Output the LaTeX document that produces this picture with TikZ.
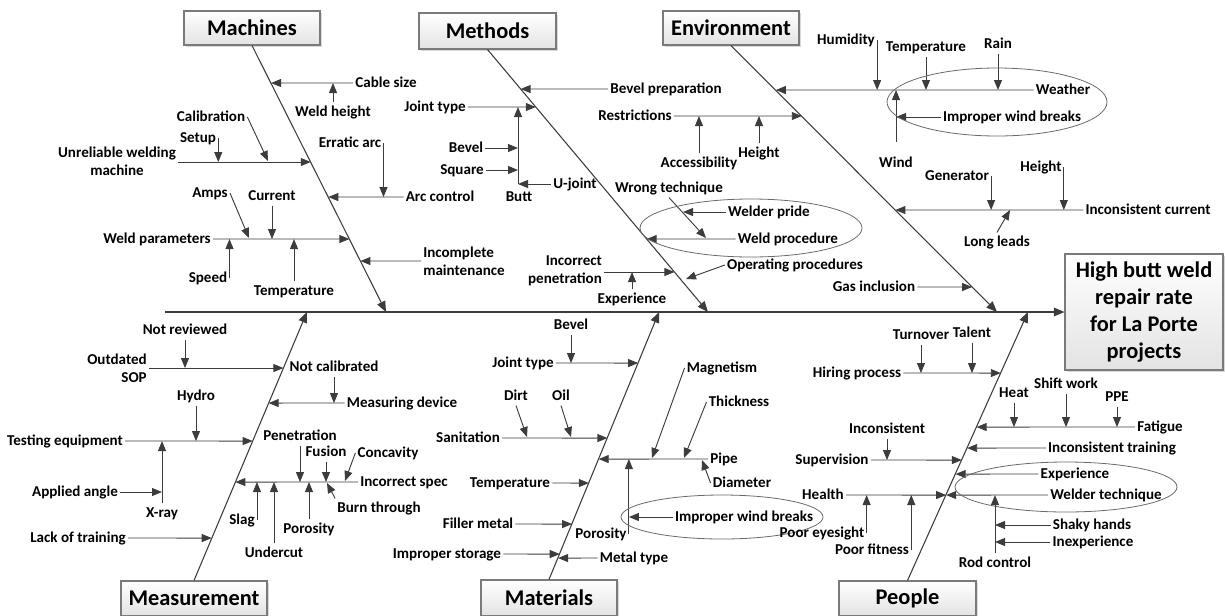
\documentclass[tikz,border=0pt]{standalone}
\usepackage{fontspec}
\setmainfont{Carlito}
\usetikzlibrary{arrows.meta,shadows}
\definecolor{lncol}{HTML}{3C3C3C}
\definecolor{boxline}{HTML}{7A7A7A}
\definecolor{ellcol}{HTML}{6A6A6A}
\newcommand\bpt[6]{\coordinate (#1) at (intersection of #2,#3--#4,#5 and 0,#6--1,#6);}
\newcommand\mchpt[2]{\bpt{#1}{252}{45}{386}{312}{#2}}
\newcommand\mthpt[2]{\bpt{#1}{487}{49}{708}{312}{#2}}
\newcommand\envpt[2]{\bpt{#1}{731}{45}{997}{312}{#2}}
\newcommand\meapt[2]{\bpt{#1}{194}{580}{307}{312}{#2}}
\newcommand\matpt[2]{\bpt{#1}{549}{580}{659}{312}{#2}}
\newcommand\pplpt[2]{\bpt{#1}{908}{580}{1028}{312}{#2}}
\tikzset{
  lab/.style={font=\bfseries\fontsize{11.3}{13.5}\selectfont, inner sep=1.5pt, text height=8.5pt, text depth=2.5pt},
  labm/.style={font=\bfseries\fontsize{11.3}{13.5}\selectfont, inner sep=1.5pt},
  arr/.style={draw=lncol, line width=0.7pt, -{Triangle[length=7.5pt,width=6pt]}},
  bone/.style={draw=lncol, line width=0.8pt, -{Triangle[length=8pt,width=6.5pt]}},
  ell/.style={draw=ellcol, line width=0.6pt},
  cat/.style={draw=boxline, line width=0.8pt, top color=white, bottom color=gray!22,
    drop shadow={opacity=0.3, shadow xshift=1.5pt, shadow yshift=-1.5pt},
    font=\bfseries\fontsize{16.8}{20.25}\selectfont, inner sep=0pt},
}
\begin{document}
\begin{tikzpicture}[x=0.75pt,y=-0.75pt]
\useasboundingbox (0,0) rectangle (1225,615);
% ---------- category boxes and effect ----------
\node[cat, minimum width=102pt, minimum height=25.5pt] (machines) at (252,28) {Machines};
\node[cat, minimum width=102.75pt, minimum height=27pt] (methods) at (487.5,31) {Methods};
\node[cat, minimum width=102pt, minimum height=25.5pt] (environment) at (731,28) {Environment};
\node[cat, minimum width=109.5pt, minimum height=26.25pt] (measurement) at (194,598.5) {Measurement};
\node[cat, minimum width=102pt, minimum height=27pt] (materials) at (549,598) {Materials};
\node[cat, minimum width=102.75pt, minimum height=26.25pt] (people) at (907.5,598.5) {People};
\node[cat, minimum width=118.5pt, minimum height=87pt, align=center] (effect) at (1144,312) {High butt weld\\repair rate\\for La Porte\\projects};
% ---------- spine and bones ----------
\coordinate (spineL) at (165,312);
\draw[bone, line width=1pt] (spineL) -- (effect.west);
\coordinate (mchT) at (386,312);
\coordinate (mthT) at (708,312);
\coordinate (envT) at (997,312);
\coordinate (meaT) at (307,312);
\coordinate (matT) at (659,312);
\coordinate (pplT) at (1028,312);
\draw[bone] (machines.south) -- (mchT);
\draw[bone] (methods.south) -- (mthT);
\draw[bone] (environment.south) -- (envT);
\draw[bone] (measurement.north) -- (meaT);
\draw[bone] (materials.north) -- (matT);
\draw[bone] (people.north) -- (pplT);
% ---------- Machines ----------
\node[lab] (cable) at (386,83) {Cable size};
\mchpt{cableJ}{83}
\draw[arr] (cable.west) -- (cableJ);
\node[lab] (weldh) at (333,112) {Weld height};
\draw[arr] (weldh.north) -- (weldh.north |- cableJ);
\node[labm, align=center] (urw) at (117,161) {Unreliable welding\\machine};
\mchpt{urwJ}{162}
\draw[arr] (urw.east |- urwJ) -- (urwJ);
\node[lab] (setup) at (198,138) {Setup};
\draw[arr] (setup.east) -- (setup.east |- urwJ);
\node[lab] (calib) at (211,117) {Calibration};
\coordinate (calibT) at (268,161);
\draw[arr] (calib.east) -- (calibT);
\node[lab] (erratic) at (350,143) {Erratic arc};
\node[lab] (arcc) at (440,197) {Arc control};
\mchpt{arccJ}{197}
\draw[arr] (arcc.west) -- (arccJ);
\draw[arr] (erratic.east) -- (erratic.east |- arccJ);
\node[lab] (wparam) at (157,239) {Weld parameters};
\mchpt{wparamJ}{239}
\draw[arr] (wparam.east) -- (wparamJ);
\node[lab] (amps) at (210,193) {Amps};
\coordinate (ampsT) at (249,238);
\draw[arr] (amps.east) -- (ampsT);
\node[lab] (current) at (272,196) {Current};
\draw[arr] (current.south) -- (current.south |- wparamJ);
\node[lab] (speed) at (208,278) {Speed};
\draw[arr] (speed.east) -- (speed.east |- wparamJ);
\node[lab] (temp1) at (294,291) {Temperature};
\draw[arr] (temp1.north) -- (temp1.north |- wparamJ);
\node[labm, align=left] (incm) at (464,261) {Incomplete\\maintenance};
\mchpt{incmJ}{261}
\draw[arr] (incm.west) -- (incmJ);
% ---------- Methods ----------
\node[lab] (bevp) at (666,89) {Bevel preparation};
\mthpt{bevpJ}{89}
\draw[arr] (bevp.west) -- (bevpJ);
\node[lab] (jt1) at (435,107) {Joint type};
\mthpt{jt1J}{107}
\draw[arr] (jt1.east) -- (jt1J);
\coordinate (buttT) at (518,107);
\coordinate (buttB) at (518,184);
\draw[arr] (buttB) -- (buttT);
\node[lab] (bev1) at (466,148) {Bevel};
\draw[arr] (bev1.east) -- (bev1.east -| buttB);
\node[lab] (sq) at (462,170) {Square};
\draw[arr] (sq.east) -- (sq.east -| buttB);
\node[lab] (uj) at (575,184) {U-joint};
\draw[arr] (uj.west) -- (buttB);
\node[lab] (butt) at (519,197) {Butt};
\node[lab] (restr) at (635,116) {Restrictions};
\envpt{restrJ}{116}
\draw[arr] (restr.east) -- (restrJ);
\node[lab] (access) at (699,163) {Accessibility};
\draw[arr] (access.north) -- (access.north |- restrJ);
\node[lab] (hgt1) at (759,153) {Height};
\draw[arr] (hgt1.north) -- (hgt1.north |- restrJ);
\node[lab] (wrong) at (669,188) {Wrong technique};
\coordinate (wrongT) at (706,238);
\draw[arr] (wrong.south) -- (wrongT);
\node[lab] (wpride) at (769,212) {Welder pride};
\coordinate (wprideT) at (683,212);
\draw[arr] (wpride.west) -- (wprideT);
\node[lab] (wproc) at (788,239) {Weld procedure};
\mthpt{wprocJ}{239}
\draw[arr] (wproc.west) -- (wprocJ);
\draw[ell] (751,228) ellipse [x radius=111, y radius=29];
\node[lab] (opp) at (795,265) {Operating procedures};
\coordinate (oppT) at (686,279);
\draw[arr] (opp.west) -- (oppT);
\node[labm, align=right] (incp) at (565,271) {Incorrect\\penetration};
\mthpt{incpJ}{272}
\draw[arr] (incp.east |- incpJ) -- (incpJ);
\node[lab] (exp1) at (632,299) {Experience};
\draw[arr] (exp1.north) -- (exp1.north |- incpJ);
% ---------- Environment ----------
\node[lab] (weather) at (1063,90) {Weather};
\envpt{weatherJ}{90}
\draw[arr] (weather.west) -- (weatherJ);
\node[lab] (humid) at (846,40) {Humidity};
\draw[arr] (humid.east) -- (humid.east |- weatherJ);
\node[lab] (temp2) at (926,47) {Temperature};
\draw[arr] (temp2.south) -- (temp2.south |- weatherJ);
\node[lab] (rain) at (998,44) {Rain};
\draw[arr] (rain.south) -- (rain.south |- weatherJ);
\node[lab] (wind) at (896,163) {Wind};
\coordinate (windB) at (896,142);
\coordinate (windT) at (896,90);
\draw[arr] (windB) -- (windT);
\node[lab] (iwb1) at (1012,117) {Improper wind breaks};
\draw[arr] (iwb1.west) -- (iwb1.west -| windT);
\draw[ell] (997,102) ellipse [x radius=110, y radius=34];
\node[lab] (icur) at (1148,210) {Inconsistent current};
\envpt{icurJ}{210}
\draw[arr] (icur.west) -- (icurJ);
\node[lab] (gen) at (957,176) {Generator};
\draw[arr] (gen.east) -- (gen.east |- icurJ);
\node[lab] (hgt2) at (1041,167) {Height};
\draw[arr] (hgt2.east) -- (hgt2.east |- icurJ);
\node[lab] (leads) at (997,242) {Long leads};
\coordinate (leadsT) at (1010,210);
\draw[arr] (leads.north) -- (leadsT);
\node[lab] (gas) at (874,287) {Gas inclusion};
\envpt{gasJ}{287}
\draw[arr] (gas.east) -- (gasJ);
% ---------- Measurement ----------
\node[labm, align=right] (sop) at (117,368) {Outdated\\SOP};
\meapt{sopJ}{368}
\draw[arr] (sop.east |- sopJ) -- (sopJ);
\node[lab] (notrev) at (185,330) {Not reviewed};
\draw[arr] (notrev.south) -- (notrev.south |- sopJ);
\node[lab] (notcal) at (334,367) {Not calibrated};
\node[lab] (meas) at (402,403) {Measuring device};
\meapt{measJ}{403}
\draw[arr] (meas.west) -- (measJ);
\draw[arr] (notcal.south) -- (notcal.south |- measJ);
\node[lab] (testeq) at (65,441) {Testing equipment};
\meapt{testeqJ}{441}
\draw[arr] (testeq.east) -- (testeqJ);
\node[lab] (hydro) at (196,396) {Hydro};
\draw[arr] (hydro.south) -- (hydro.south |- testeqJ);
\node[lab] (xray) at (162,513) {X-ray};
\draw[arr] (xray.north) -- (xray.north |- testeqJ);
\node[lab] (angle) at (75,492) {Applied angle};
\draw[arr] (angle.east) -- (angle.east -| xray.north);
\node[lab] (incs) at (404,482) {Incorrect spec};
\meapt{incsJ}{482}
\draw[arr] (incs.west) -- (incsJ);
\node[lab] (pen) at (300,436) {Penetration};
\draw[arr] (pen.south) -- (pen.south |- incsJ);
\node[lab] (fusion) at (326,452) {Fusion};
\draw[arr] (fusion.south) -- (fusion.south |- incsJ);
\node[lab] (concav) at (388,453) {Concavity};
\coordinate (concT) at (345,481);
\draw[arr] (concav.west) -- (concT);
\node[lab] (burn) at (379,508) {Burn through};
\coordinate (burnT) at (327,483);
\draw[arr] (burn.north west) -- (burnT);
\node[lab] (slag) at (242,520) {Slag};
\draw[arr] (slag.east) -- (slag.east |- incsJ);
\node[lab] (under) at (274,553) {Undercut};
\draw[arr] (under.north) -- (under.north |- incsJ);
\node[lab] (poro1) at (309,529) {Porosity};
\draw[arr] (poro1.north) -- (poro1.north |- incsJ);
\node[lab] (lack) at (78,538) {Lack of training};
\meapt{lackJ}{538}
\draw[arr] (lack.east) -- (lackJ);
% ---------- Materials ----------
\node[lab] (jt2) at (523,363) {Joint type};
\matpt{jt2J}{363}
\draw[arr] (jt2.east) -- (jt2J);
\node[lab] (bev2) at (571,325) {Bevel};
\draw[arr] (bev2.south) -- (bev2.south |- jt2J);
\node[lab] (sanit) at (468,438) {Sanitation};
\matpt{sanitJ}{438}
\draw[arr] (sanit.east) -- (sanitJ);
\node[lab] (dirt) at (516,396) {Dirt};
\coordinate (dirtT) at (527,437);
\draw[arr] (dirt.south) -- (dirtT);
\node[lab] (oil) at (561,396) {Oil};
\coordinate (oilT) at (571,437);
\draw[arr] (oil.south) -- (oilT);
\node[lab] (pipe) at (724,459) {Pipe};
\matpt{pipeJ}{459}
\draw[arr] (pipe.west) -- (pipeJ);
\node[lab] (magn) at (722,368) {Magnetism};
\coordinate (magnT) at (652,458);
\draw[arr] (magn.west) -- (magnT);
\node[lab] (thick) at (739,402) {Thickness};
\coordinate (thickT) at (684,458);
\draw[arr] (thick.west) -- (thickT);
\node[lab] (diam) at (742,483) {Diameter};
\coordinate (diamT) at (702,460);
\draw[arr] (diam.west) -- (diamT);
\node[lab] (poro2) at (601,534) {Porosity};
\draw[arr] (poro2.east) -- (poro2.east |- pipeJ);
\node[lab] (iwb2) at (744,517) {Improper wind breaks};
\draw[arr] (iwb2.west) -- (iwb2.west -| poro2.east);
\draw[ell] (722,517) ellipse [x radius=101, y radius=22];
\node[lab] (temp3) at (510,483) {Temperature};
\matpt{temp3J}{483}
\draw[arr] (temp3.east) -- (temp3J);
\node[lab] (filler) at (478,524) {Filler metal};
\matpt{fillerJ}{524}
\draw[arr] (filler.east) -- (fillerJ);
\node[lab] (stor) at (447,554) {Improper storage};
\matpt{storJ}{554}
\draw[arr] (stor.east) -- (storJ);
\node[lab] (mtype) at (634,558) {Metal type};
\matpt{mtypeJ}{558}
\draw[arr] (mtype.west) -- (mtypeJ);
% ---------- People ----------
\node[lab] (hiring) at (857,373) {Hiring process};
\pplpt{hiringJ}{373}
\draw[arr] (hiring.east) -- (hiringJ);
\node[lab] (turn) at (921,335) {Turnover};
\draw[arr] (turn.south) -- (turn.south |- hiringJ);
\node[lab] (talent) at (972,333) {Talent};
\draw[arr] (talent.south) -- (talent.south |- hiringJ);
\node[lab] (fatigue) at (1160,427) {Fatigue};
\pplpt{fatigueJ}{427}
\draw[arr] (fatigue.west) -- (fatigueJ);
\node[lab] (heat) at (1014,393) {Heat};
\draw[arr] (heat.south) -- (heat.south |- fatigueJ);
\node[lab] (shift) at (1066,384) {Shift work};
\draw[arr] (shift.south) -- (shift.south |- fatigueJ);
\node[lab] (ppe) at (1117,397) {PPE};
\draw[arr] (ppe.south) -- (ppe.south |- fatigueJ);
\node[lab] (itrain) at (1112,448) {Inconsistent training};
\pplpt{itrainJ}{448}
\draw[arr] (itrain.west) -- (itrainJ);
\node[lab] (superv) at (832,460) {Supervision};
\pplpt{supervJ}{460}
\draw[arr] (superv.east) -- (supervJ);
\node[lab] (incons) at (887,429) {Inconsistent};
\draw[arr] (incons.south) -- (incons.south |- supervJ);
\node[lab] (exp2) at (1075,474) {Experience};
\pplpt{exp2J}{474}
\draw[arr] (exp2.west) -- (exp2J);
\node[lab] (wtech) at (1106,495) {Welder technique};
\pplpt{wtechJ}{495}
\draw[arr] (wtech.west) -- (wtechJ);
\draw[ell] (1066,487) ellipse [x radius=111, y radius=25];
\node[lab] (rod) at (995,563) {Rod control};
\draw[arr] (rod.north) -- (rod.north |- wtechJ);
\node[lab] (shaky) at (1092,525) {Shaky hands};
\draw[arr] (shaky.west) -- (shaky.west -| rod.north);
\node[lab] (inexp) at (1093,542) {Inexperience};
\draw[arr] (inexp.west) -- (inexp.west -| rod.north);
\node[lab] (health) at (823,495) {Health};
\draw[arr] (health.east) -- (wtechJ);
\node[lab] (eyes) at (822,533) {Poor eyesight};
\draw[arr] (eyes.east) -- (eyes.east |- wtechJ);
\node[lab] (fit) at (872,550) {Poor fitness};
\draw[arr] (fit.east) -- (fit.east |- wtechJ);
\end{tikzpicture}
\end{document}
